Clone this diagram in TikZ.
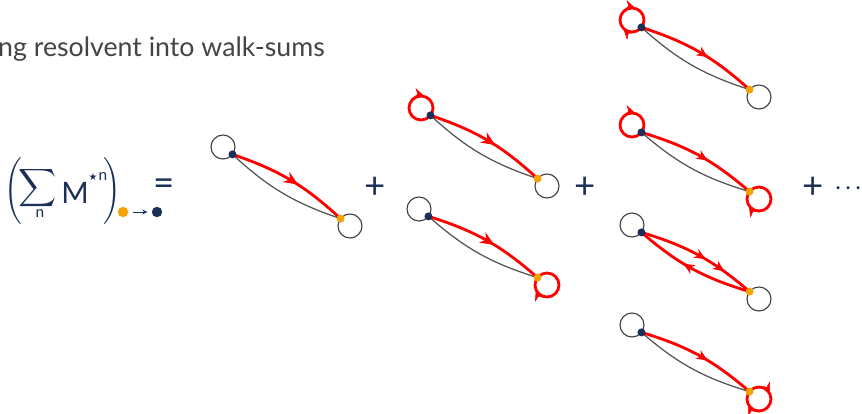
\documentclass[tikz,border=0pt]{standalone}
\usepackage{fontspec}
\setmainfont{Lato}
\newfontfamily\djv{DejaVu Sans}
\usetikzlibrary{arrows.meta,decorations.markings,backgrounds}
\definecolor{navy}{HTML}{1B3058}
\definecolor{orng}{HTML}{F5A300}
\definecolor{wred}{HTML}{FF0000}
\definecolor{cgrey}{HTML}{404040}
\definecolor{egrey}{HTML}{555555}
\definecolor{tgrey}{HTML}{444444}
\begin{document}
\begin{tikzpicture}[x=0.025cm,y=0.025cm,
  vert/.style={circle,draw=cgrey,line width=0.8pt,minimum size=0.6cm,inner sep=0pt,outer sep=0pt},
  rvert/.style={vert,draw=wred,line width=2pt},
  sdot/.style={circle,fill=navy,minimum size=0.2cm,inner sep=0pt},
  tdot/.style={circle,fill=orng,minimum size=0.2cm,inner sep=0pt},
  fdot/.style={circle,minimum size=0.26cm,inner sep=0pt},
  redge/.style={draw=wred,line width=2pt},
  gedge/.style={draw=egrey,line width=0.9pt},
  mk/.style={postaction={decorate},decoration={markings,mark=at position #1 with {\arrow{Stealth[length=10pt,width=8.5pt]}}}},
  smk/.style={postaction={decorate},decoration={markings,mark=at position #1 with {\arrow{Stealth[length=8pt,width=7pt]}}}},
  smktwo/.style 2 args={postaction={decorate},decoration={markings,mark=at position #1 with {\arrow{Stealth[length=8pt,width=7pt]}},mark=at position #2 with {\arrow{Stealth[length=8pt,width=7pt]}}}},
  loopar/.style={color=wred,postaction={decorate},decoration={markings,mark=at position #1 with {\arrow{Stealth[length=8pt,width=7.5pt]}}}},
  looptwo/.style 2 args={color=wred,postaction={decorate},decoration={markings,mark=at position #1 with {\arrow{Stealth[length=8pt,width=7.5pt]}},mark=at position #2 with {\arrow{Stealth[length=8pt,width=7.5pt]}}}},
  sym/.style={text=navy,font=\fontsize{21}{24}\selectfont,inner sep=0pt},
  bigsym/.style={text=navy,font=\fontsize{26}{30}\selectfont,inner sep=0pt},
]
\useasboundingbox (0,0) rectangle (862,-414);

% title
\node[anchor=base east,text=tgrey,font=\fontsize{19}{22}\selectfont,inner sep=0pt] (title) at (325,-56) {ng resolvent into walk-sums};

% formula
\node[text=navy,inner sep=0pt] (lpar) at (13,-191) {\resizebox*{!}{1.67cm}{$\Bigg($}};
\node[text=navy,inner sep=0pt] (sum) at (38,-188.5) {\resizebox*{!}{1.06cm}{$\displaystyle\sum$}};
\node[text=navy,font=\fontsize{11}{12}\selectfont,inner sep=0pt] (sumn) at (40,-214) {n};
\node[sym] (M) at (75,-193) {M};
\node[text=navy,inner sep=0pt] (star) at (93,-177) {\djv\fontsize{7}{8}\selectfont ★};
\node[text=navy,inner sep=0pt,font=\fontsize{11}{12}\selectfont] (supn) at (103,-177) {n};
\node[text=navy,inner sep=0pt] (rpar) at (112,-191) {\resizebox*{!}{1.67cm}{$\Bigg)$}};
\node[fdot,fill=orng] (fo) at (123,-212) {};
\node[fdot,fill=navy] (fn) at (157,-212) {};
\draw[navy,line width=0.6pt,-{Stealth[length=3.5pt,width=3.5pt]},shorten <=3pt,shorten >=3pt] (fo) -- (fn);
\node[bigsym] (eq) at (164,-187) {=};

\node[bigsym] (plus1) at (375,-188) {+};
\node[bigsym] (plus2) at (585,-188) {+};
\node[bigsym] (plus3) at (813,-188) {+};
\node[text=navy,inner sep=0pt,anchor=base west,font=\fontsize{21}{24}\selectfont] (dots) at (834,-195) {$\mathord{\cdot}\kern1.3pt\mathord{\cdot}\kern1.3pt\mathord{\cdot}$};

% ---------- motif 1
\node[vert] (m1a) at (223,-147) {};
\node[vert] (m1b) at (350,-226) {};
\node[sdot] (m1s) at (m1a.-38) {};
\node[tdot] (m1t) at (m1b.142) {};
\begin{scope}[on background layer]
\draw[gedge] (m1s.center) to[bend right=12] (m1t.center);
\draw[redge,mk=0.57] (m1s.center) to[bend left=12] (m1t.center);
\end{scope}

% ---------- motif 2 top
\node[rvert] (m2a) at (421,-108) {};
\node[vert] (m2b) at (547,-186) {};
\path[loopar=0.05] (m2a.center) ++(0,12) arc[start angle=90,end angle=-270,radius=0.3cm];
\node[sdot] (m2s) at (m2a.-38) {};
\node[tdot] (m2t) at (m2b.142) {};
\begin{scope}[on background layer]
\draw[gedge] (m2s.center) to[bend right=12] (m2t.center);
\draw[redge,mk=0.57] (m2s.center) to[bend left=12] (m2t.center);
\end{scope}

% ---------- motif 2 bottom
\node[vert] (m3a) at (419,-209) {};
\node[rvert] (m3b) at (547,-285) {};
\path[loopar=0.69] (m3b.center) ++(0,12) arc[start angle=90,end angle=-270,radius=0.3cm];
\node[sdot] (m3s) at (m3a.-38) {};
\node[tdot] (m3t) at (m3b.142) {};
\begin{scope}[on background layer]
\draw[gedge] (m3s.center) to[bend right=12] (m3t.center);
\draw[redge,mk=0.57] (m3s.center) to[bend left=12] (m3t.center);
\end{scope}

% ---------- column 3, A
\node[rvert] (m4a) at (632,-20) {};
\node[vert] (m4b) at (759,-97) {};
\path[looptwo={0.05}{0.63}] (m4a.center) ++(0,12) arc[start angle=90,end angle=-270,radius=0.3cm];
\node[sdot] (m4s) at (m4a.-38) {};
\node[tdot] (m4t) at (m4b.142) {};
\begin{scope}[on background layer]
\draw[gedge] (m4s.center) to[bend right=12] (m4t.center);
\draw[redge,smk=0.58] (m4s.center) to[bend left=12] (m4t.center);
\end{scope}

% ---------- column 3, B
\node[rvert] (m5a) at (632,-125) {};
\node[rvert] (m5b) at (759,-199) {};
\path[loopar=0.05] (m5a.center) ++(0,12) arc[start angle=90,end angle=-270,radius=0.3cm];
\path[loopar=0.66] (m5b.center) ++(0,12) arc[start angle=90,end angle=-270,radius=0.3cm];
\node[sdot] (m5s) at (m5a.-38) {};
\node[tdot] (m5t) at (m5b.142) {};
\begin{scope}[on background layer]
\draw[gedge] (m5s.center) to[bend right=12] (m5t.center);
\draw[redge,smk=0.58] (m5s.center) to[bend left=12] (m5t.center);
\end{scope}

% ---------- column 3, C
\node[vert] (m6a) at (632,-225) {};
\node[vert] (m6b) at (759,-299) {};
\node[sdot] (m6s) at (m6a.-38) {};
\node[tdot] (m6t) at (m6b.142) {};
\begin{scope}[on background layer]
\draw[redge,smktwo={0.56}{0.74}] (m6s.center) to[bend left=12] (m6t.center);
\draw[redge,smk=0.58] (m6t.center) to[bend left=12] (m6s.center);
\end{scope}

% ---------- column 3, D
\node[vert] (m7a) at (632,-325) {};
\node[rvert] (m7b) at (759,-399) {};
\path[looptwo={0.18}{0.68}] (m7b.center) ++(0,12) arc[start angle=90,end angle=-270,radius=0.3cm];
\node[sdot] (m7s) at (m7a.-38) {};
\node[tdot] (m7t) at (m7b.142) {};
\begin{scope}[on background layer]
\draw[gedge] (m7s.center) to[bend right=12] (m7t.center);
\draw[redge,smk=0.58] (m7s.center) to[bend left=12] (m7t.center);
\end{scope}
\end{tikzpicture}
\end{document}
